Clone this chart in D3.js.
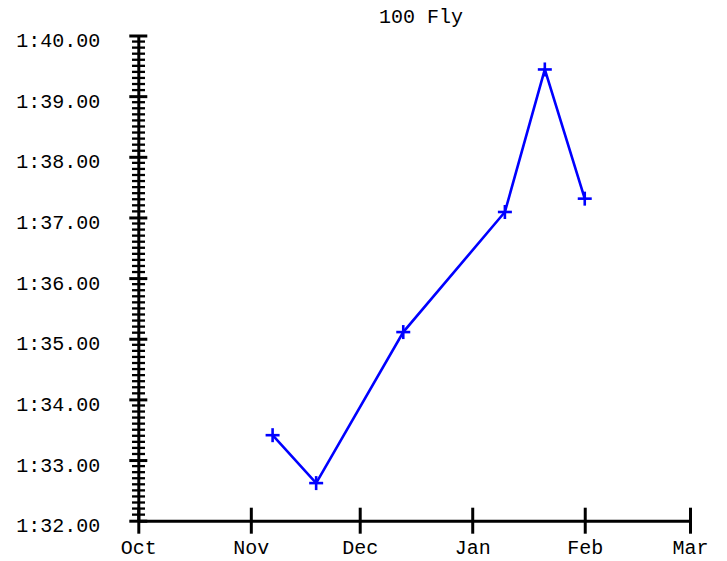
<!DOCTYPE html>
<html><head><meta charset="utf-8">
<script src="https://cdn.jsdelivr.net/npm/d3@7"></script>
<style>
html,body{margin:0;padding:0;background:#fff;}
text{font-family:"Courier New","Liberation Mono",monospace;}
</style></head>
<body>
<svg id="chart" width="727" height="561"></svg>
<script>
const title = "100 Fly";
const dates = ["2023-11-07","2023-11-19","2023-12-13","2024-01-10","2024-01-21","2024-02-01"];
const times = [93.41, 92.62, 95.11, 97.09, 99.44, 97.31]; // seconds
const xTickLabels = ["Oct","Nov","Dec","Jan","Feb","Mar"];
const xDomain = ["2023-10-01","2024-03-01"];
const yDomain = [92, 100];

const parse = d3.utcParse("%Y-%m-%d");
const data = dates.map((d,i)=>({date:parse(d), t:times[i]}));

const svg = d3.select("#chart");
const x = d3.scaleUtc().domain(xDomain.map(parse)).range([138.3, 690]);
const y = d3.scaleLinear().domain(yDomain).range([520.7, 35.5]);

const fmt = s => { const m=Math.floor(s/60); const r=s-m*60; return m+":"+(r<10?"0":"")+r.toFixed(2); };

// minor y ticks
const minor = d3.range(yDomain[0]*10, yDomain[1]*10+1).map(v=>v/10).filter(v=>Math.abs(v-Math.round(v))>1e-6);
svg.append("g").selectAll("line").data(minor).join("line")
  .attr("x1",132).attr("x2",145).attr("y1",d=>y(d)).attr("y2",d=>y(d))
  .attr("stroke","#000").attr("stroke-width",2.3);

// y axis
const yAxis = d3.axisLeft(y).tickValues(d3.range(yDomain[0], yDomain[1]+1)).tickFormat(fmt).tickSizeOuter(0);
const gy = svg.append("g").attr("transform","translate(138.3,0)").call(yAxis);
gy.attr("font-family",null);
gy.select(".domain").attr("stroke","#000").attr("stroke-width",3);
gy.selectAll(".tick line").attr("x1",-9).attr("x2",9).attr("stroke","#000").attr("stroke-width",3);
gy.selectAll(".tick text").attr("x",-38).attr("dy",null).attr("y",11)
  .attr("font-size",20).attr("fill","#000");

// x axis
const xTicks = d3.utcMonths(x.domain()[0], d3.utcDay.offset(x.domain()[1],1));
const xAxis = d3.axisBottom(x).tickValues(xTicks).tickFormat((d,i)=>xTickLabels[i]).tickSizeOuter(0);
const gx = svg.append("g").attr("transform","translate(0,520.7)").call(xAxis);
gx.attr("font-family",null);
gx.select(".domain").attr("stroke","#000").attr("stroke-width",3);
gx.selectAll(".tick line").attr("y1",-13).attr("y2",13).attr("stroke","#000").attr("stroke-width",3);
gx.selectAll(".tick text").attr("y",33).attr("dy",null).attr("font-size",20).attr("fill","#000");

// line
const line = d3.line().x(d=>x(d.date)).y(d=>y(d.t));
svg.append("path").datum(data).attr("d",line).attr("fill","none")
  .attr("stroke","#0000ff").attr("stroke-width",2.6).attr("stroke-linejoin","miter");

// plus markers
const mk = svg.append("g").selectAll("g").data(data).join("g")
  .attr("transform",d=>`translate(${x(d.date)},${y(d.t)})`);
mk.append("line").attr("x1",-7).attr("x2",7).attr("stroke","#0000ff").attr("stroke-width",2.6);
mk.append("line").attr("y1",-7).attr("y2",7).attr("stroke","#0000ff").attr("stroke-width",2.6);

// title
svg.append("text").attr("x",421).attr("y",23).attr("text-anchor","middle")
  .attr("font-size",20).attr("fill","#000").text(title);
</script>
</body></html>
